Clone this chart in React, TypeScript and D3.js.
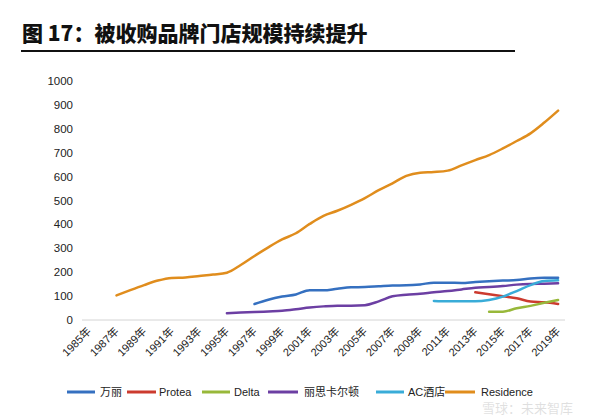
import React from "react";
import * as d3 from "d3";

const years: number[] = d3.range(1985, 2020);
const tickYears: number[] = d3.range(1985, 2020, 2);
const yTicks: number[] = d3.range(0, 1001, 100);

const renaissanceStart = 1997;
const renaissance = [67, 85, 98, 107, 125, 124, 131, 137, 138, 141, 144, 145, 149, 156, 156, 155, 159, 162, 165, 167, 174, 177, 177];
const proteaStart = 2013;
const protea = [116, 108, 99, 91, 77, 74, 67];
const deltaStart = 2014;
const delta = [35, 35, 49, 59, 72, 84];
const ritzStart = 1995;
const ritz = [28, 31, 33, 36, 39, 45, 52, 57, 60, 60, 62, 78, 99, 106, 110, 116, 121, 128, 135, 138, 142, 148, 151, 152, 154];
const acStart = 2010;
const ac = [80, 78, 78, 78, 84, 98, 121, 146, 163, 166];
const residenceStart = 1987;
const residence = [103, 125, 146, 165, 176, 178, 184, 190, 198, 230, 268, 304, 337, 363, 402, 436, 457, 482, 510, 543, 572, 603, 616, 619, 625, 647, 669, 690, 718, 749, 781, 826, 876];

const seriesNames = ["万丽", "Protea", "Delta", "丽思卡尔顿", "AC酒店", "Residence"];
const seriesColors = ["#3570c0", "#cc3b2f", "#98b83a", "#6c3fa3", "#39acd8", "#e08d1d"];
const seriesStarts = [renaissanceStart, proteaStart, deltaStart, ritzStart, acStart, residenceStart];
const seriesValues = [renaissance, protea, delta, ritz, ac, residence];

const W = 602;
const H = 418;

export default function App() {
  const x = d3.scaleBand<number>().domain(years).range([82, 565]);
  const xc = (yr: number) => (x(yr) as number) + x.bandwidth() / 2;
  const y = d3.scaleLinear().domain([0, 1000]).range([320, 81]);

  const line = d3
    .line<{ yr: number; v: number }>()
    .x((d) => xc(d.yr))
    .y((d) => y(d.v))
    .curve(d3.curveMonotoneX);

  const series = seriesNames.map((name, i) => ({
    name,
    color: seriesColors[i],
    pts: seriesValues[i].map((v, j) => ({ yr: seriesStarts[i] + j, v })),
  }));

  // legend layout: [lineStart, lineEnd, textStart]
  const legendPos = [
    [67, 95, 100],
    [127, 156, 159],
    [202, 230, 234],
    [268, 298, 304],
    [376, 404, 408],
    [445, 475, 481],
  ];

  return (
    <svg
      width={W}
      height={H}
      style={{ position: "absolute", left: 0, top: 0, background: "#fff" }}
    >
      <rect x={0} y={0} width={W} height={H} fill="#fff" />
      <text
        x={22}
        y={41}
        fontFamily="'Noto Sans CJK SC', sans-serif"
        fontWeight={900}
        fontSize={21}
        fill="#111"
      >
        图 17：被收购品牌门店规模持续提升
      </text>
      <line x1={21} x2={515} y1={51} y2={51} stroke="#111" strokeWidth={2} />

      {yTicks.map((t) => (
        <text
          key={t}
          x={73}
          y={y(t) + 4}
          textAnchor="end"
          fontFamily="'Liberation Sans', Arial, sans-serif"
          fontSize={11.5}
          fill="#222"
        >
          {t}
        </text>
      ))}

      <line x1={82} x2={565} y1={y(0)} y2={y(0)} stroke="#d4d4d4" strokeWidth={1} />

      {tickYears.map((yr) => (
        <text
          key={yr}
          transform={`translate(${xc(yr) + 3},${332}) rotate(-45)`}
          textAnchor="end"
          fontFamily="'Liberation Sans', 'Noto Sans CJK SC', sans-serif"
          fontSize={11}
          fill="#222"
        >
          {yr}年
        </text>
      ))}

      {series.map((s) => (
        <path
          key={s.name}
          d={line(s.pts) as string}
          fill="none"
          stroke={s.color}
          strokeWidth={2.5}
          strokeLinejoin="round"
          strokeLinecap="round"
        />
      ))}

      {series.map((s, i) => (
        <g key={s.name}>
          <line
            x1={legendPos[i][0]}
            x2={legendPos[i][1]}
            y1={392}
            y2={392}
            stroke={s.color}
            strokeWidth={3}
          />
          <text
            x={legendPos[i][2]}
            y={396}
            fontFamily="'Liberation Sans', 'Noto Sans CJK SC', sans-serif"
            fontSize={11}
            fill="#222"
          >
            {s.name}
          </text>
        </g>
      ))}

      <text
        x={482}
        y={413}
        fontFamily="'Noto Sans CJK SC', sans-serif"
        fontSize={13}
        fill="#000"
        opacity={0.12}
      >
        雪球：未来智库
      </text>
    </svg>
  );
}
